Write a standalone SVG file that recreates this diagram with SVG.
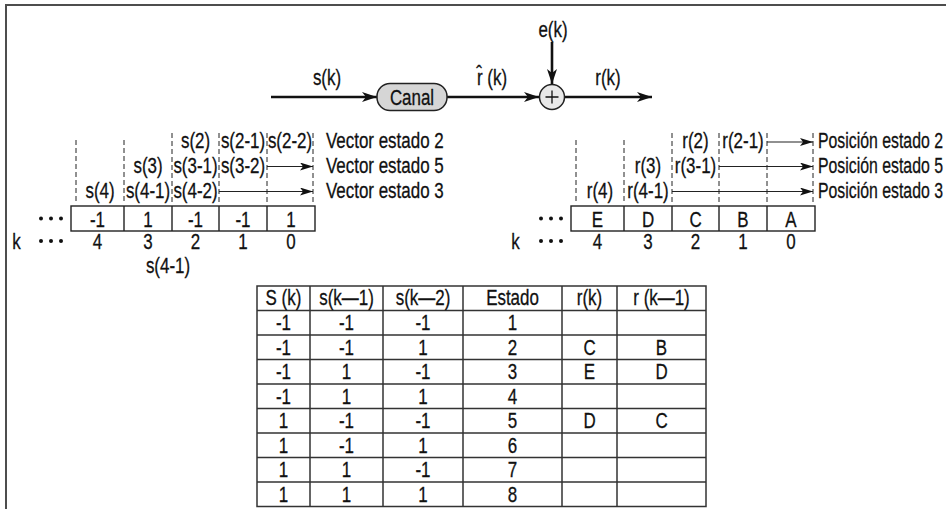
<svg xmlns="http://www.w3.org/2000/svg" width="946" height="509" viewBox="0 0 946 509">
<style>
text{font-family:"Liberation Sans",Arial,sans-serif;font-size:22px;fill:#111;stroke:#111;stroke-width:0.3;text-anchor:middle}
.l{text-anchor:start}
.dash{stroke:#222;stroke-width:1;stroke-dasharray:5 3;fill:none}
.thin{stroke:#222;stroke-width:1.2;fill:none;marker-end:url(#ah)}
.thick{stroke:#111;stroke-width:2.6;fill:none;marker-end:url(#AH)}
.box{fill:#fff;stroke:#222;stroke-width:1.4}
.grid{stroke:#333;stroke-width:1.5;fill:none}
.dot{fill:#111}
</style>
<defs>
<marker id="AH" markerUnits="userSpaceOnUse" markerWidth="16" markerHeight="10" refX="15" refY="5" orient="auto"><path d="M0,0 L15,5 L0,10 L4,5 Z" fill="#111"/></marker>
<marker id="ah" markerUnits="userSpaceOnUse" markerWidth="14" markerHeight="8" refX="13" refY="4" orient="auto"><path d="M0,0 L13,4 L0,8 L3,4 Z" fill="#111"/></marker>
</defs>
<rect width="946" height="509" fill="#fff"/>
<g id="frame"><path d="M6,509 V5 H946" fill="none" stroke="#4d4d4d" stroke-width="2"/></g>

<g id="connectors">
<line class="thick" x1="271" y1="97" x2="377" y2="97"/>
<line class="thick" x1="447" y1="97" x2="539" y2="97"/>
<line class="thick" x1="564.5" y1="97" x2="652" y2="97"/>
<line class="thick" x1="552" y1="42" x2="552" y2="84"/>
<line class="thin" x1="267" y1="166.5" x2="313" y2="166.5"/>
<line class="thin" x1="219" y1="191.5" x2="313" y2="191.5"/>
<line class="thin" x1="767" y1="142" x2="813" y2="142"/>
<line class="thin" x1="719" y1="166.5" x2="813" y2="166.5"/>
<line class="thin" x1="672" y1="191.5" x2="813" y2="191.5"/>
</g>

<g id="canal"><rect x="377" y="83.5" width="70" height="27" rx="13" fill="#d6d6d6" stroke="#222" stroke-width="1.5"/><text transform="translate(412,105) scale(.77,1)">Canal</text></g>
<g id="sum"><circle cx="552" cy="97" r="12.5" fill="#e8e8e8" stroke="#222" stroke-width="1.5"/><path d="M545.5,97H558.5M552,90.5V103.5" stroke="#111" stroke-width="1.3"/></g>
<g id="top-labels">
<text transform="translate(553,37) scale(.77,1)">e(k)</text>
<text transform="translate(327,85) scale(.77,1)">s(k)</text>
<text transform="translate(492,85) scale(.77,1)">r̂ (k)</text>
<text transform="translate(608,85) scale(.77,1)">r(k)</text>
</g>

<g id="left-array">
<line class="dash" x1="76" y1="140" x2="76" y2="204"/>
<line class="dash" x1="124" y1="140" x2="124" y2="204"/>
<line class="dash" x1="172" y1="133" x2="172" y2="204"/>
<line class="dash" x1="219" y1="133" x2="219" y2="204"/>
<line class="dash" x1="267" y1="133" x2="267" y2="204"/>
<line class="dash" x1="313" y1="133" x2="313" y2="204"/>
<text transform="translate(195.5,148) scale(.77,1)">s(2)</text>
<text transform="translate(243,148) scale(.77,1)">s(2-1)</text>
<text transform="translate(290,148) scale(.77,1)">s(2-2)</text>
<text transform="translate(148,173) scale(.77,1)">s(3)</text>
<text transform="translate(195.5,173) scale(.77,1)">s(3-1)</text>
<text transform="translate(243,173) scale(.77,1)">s(3-2)</text>
<text transform="translate(100,198) scale(.77,1)">s(4)</text>
<text transform="translate(148,198) scale(.77,1)">s(4-1)</text>
<text transform="translate(195.5,198) scale(.77,1)">s(4-2)</text>
<text class="l" transform="translate(326,148) scale(.77,1)">Vector estado 2</text>
<text class="l" transform="translate(326,173) scale(.77,1)">Vector estado 5</text>
<text class="l" transform="translate(326,198) scale(.77,1)">Vector estado 3</text>
<rect class="box" x="71" y="206" width="244" height="25"/>
<path class="box" d="M124,206V231M172,206V231M219,206V231M267,206V231"/>
<text transform="translate(97.5,227) scale(.77,1)">-1</text>
<text transform="translate(148,227) scale(.77,1)">1</text>
<text transform="translate(195.5,227) scale(.77,1)">-1</text>
<text transform="translate(243,227) scale(.77,1)">-1</text>
<text transform="translate(291,227) scale(.77,1)">1</text>
<circle class="dot" cx="41" cy="218.5" r="2"/><circle class="dot" cx="51" cy="218.5" r="2"/><circle class="dot" cx="61" cy="218.5" r="2"/>
<text transform="translate(16.5,249) scale(.77,1)">k</text>
<circle class="dot" cx="41" cy="241" r="2"/><circle class="dot" cx="51" cy="241" r="2"/><circle class="dot" cx="61" cy="241" r="2"/>
<text transform="translate(97.5,249) scale(.77,1)">4</text>
<text transform="translate(148,249) scale(.77,1)">3</text>
<text transform="translate(195.5,249) scale(.77,1)">2</text>
<text transform="translate(243,249) scale(.77,1)">1</text>
<text transform="translate(291,249) scale(.77,1)">0</text>
<text transform="translate(168,273) scale(.77,1)">s(4-1)</text>
</g>

<g id="right-array">
<line class="dash" x1="576" y1="140" x2="576" y2="204"/>
<line class="dash" x1="624" y1="140" x2="624" y2="204"/>
<line class="dash" x1="672" y1="133" x2="672" y2="204"/>
<line class="dash" x1="719" y1="133" x2="719" y2="204"/>
<line class="dash" x1="767" y1="133" x2="767" y2="204"/>
<line class="dash" x1="813" y1="133" x2="813" y2="204"/>
<text transform="translate(695.5,148) scale(.77,1)">r(2)</text>
<text transform="translate(743,148) scale(.77,1)">r(2-1)</text>
<text transform="translate(648,173) scale(.77,1)">r(3)</text>
<text transform="translate(695.5,173) scale(.77,1)">r(3-1)</text>
<text transform="translate(600,198) scale(.77,1)">r(4)</text>
<text transform="translate(648,198) scale(.77,1)">r(4-1)</text>
<text class="l" transform="translate(818,148) scale(.72,1)">Posición estado 2</text>
<text class="l" transform="translate(818,173) scale(.72,1)">Posición estado 5</text>
<text class="l" transform="translate(818,198) scale(.72,1)">Posición estado 3</text>
<rect class="box" x="571" y="206" width="244" height="25"/>
<path class="box" d="M624,206V231M672,206V231M719,206V231M767,206V231"/>
<text transform="translate(597.5,227) scale(.77,1)">E</text>
<text transform="translate(648,227) scale(.77,1)">D</text>
<text transform="translate(695.5,227) scale(.77,1)">C</text>
<text transform="translate(743,227) scale(.77,1)">B</text>
<text transform="translate(791,227) scale(.77,1)">A</text>
<circle class="dot" cx="541" cy="218.5" r="2"/><circle class="dot" cx="551" cy="218.5" r="2"/><circle class="dot" cx="561" cy="218.5" r="2"/>
<text transform="translate(515.5,249) scale(.77,1)">k</text>
<circle class="dot" cx="541" cy="241" r="2"/><circle class="dot" cx="551" cy="241" r="2"/><circle class="dot" cx="561" cy="241" r="2"/>
<text transform="translate(597.5,249) scale(.77,1)">4</text>
<text transform="translate(648,249) scale(.77,1)">3</text>
<text transform="translate(695.5,249) scale(.77,1)">2</text>
<text transform="translate(743,249) scale(.77,1)">1</text>
<text transform="translate(791,249) scale(.77,1)">0</text>
</g>

<g id="table">
<rect class="grid" x="257" y="286" width="449" height="220.5"/>
<path class="grid" d="M310,286V506.5M383,286V506.5M463,286V506.5M562,286V506.5M617,286V506.5M257,310.5H706M257,335H706M257,359.5H706M257,384H706M257,408.5H706M257,433H706M257,457.5H706M257,482H706"/>
<text transform="translate(283.5,305) scale(.77,1)">S (k)</text>
<text transform="translate(346.5,305) scale(.77,1)">s(k—1)</text>
<text transform="translate(423,305) scale(.77,1)">s(k—2)</text>
<text transform="translate(512.5,305) scale(.77,1)">Estado</text>
<text transform="translate(589.5,305) scale(.77,1)">r(k)</text>
<text transform="translate(661.5,305) scale(.77,1)">r (k—1)</text>
<text transform="translate(283.5,330) scale(.77,1)">-1</text><text transform="translate(346.5,330) scale(.77,1)">-1</text><text transform="translate(423,330) scale(.77,1)">-1</text><text transform="translate(512.5,330) scale(.77,1)">1</text>
<text transform="translate(283.5,354.5) scale(.77,1)">-1</text><text transform="translate(346.5,354.5) scale(.77,1)">-1</text><text transform="translate(423,354.5) scale(.77,1)">1</text><text transform="translate(512.5,354.5) scale(.77,1)">2</text><text transform="translate(589.5,354.5) scale(.77,1)">C</text><text transform="translate(661.5,354.5) scale(.77,1)">B</text>
<text transform="translate(283.5,379) scale(.77,1)">-1</text><text transform="translate(346.5,379) scale(.77,1)">1</text><text transform="translate(423,379) scale(.77,1)">-1</text><text transform="translate(512.5,379) scale(.77,1)">3</text><text transform="translate(589.5,379) scale(.77,1)">E</text><text transform="translate(661.5,379) scale(.77,1)">D</text>
<text transform="translate(283.5,403.5) scale(.77,1)">-1</text><text transform="translate(346.5,403.5) scale(.77,1)">1</text><text transform="translate(423,403.5) scale(.77,1)">1</text><text transform="translate(512.5,403.5) scale(.77,1)">4</text>
<text transform="translate(283.5,428) scale(.77,1)">1</text><text transform="translate(346.5,428) scale(.77,1)">-1</text><text transform="translate(423,428) scale(.77,1)">-1</text><text transform="translate(512.5,428) scale(.77,1)">5</text><text transform="translate(589.5,428) scale(.77,1)">D</text><text transform="translate(661.5,428) scale(.77,1)">C</text>
<text transform="translate(283.5,452.5) scale(.77,1)">1</text><text transform="translate(346.5,452.5) scale(.77,1)">-1</text><text transform="translate(423,452.5) scale(.77,1)">1</text><text transform="translate(512.5,452.5) scale(.77,1)">6</text>
<text transform="translate(283.5,477) scale(.77,1)">1</text><text transform="translate(346.5,477) scale(.77,1)">1</text><text transform="translate(423,477) scale(.77,1)">-1</text><text transform="translate(512.5,477) scale(.77,1)">7</text>
<text transform="translate(283.5,501.5) scale(.77,1)">1</text><text transform="translate(346.5,501.5) scale(.77,1)">1</text><text transform="translate(423,501.5) scale(.77,1)">1</text><text transform="translate(512.5,501.5) scale(.77,1)">8</text>
</g>
</svg>
